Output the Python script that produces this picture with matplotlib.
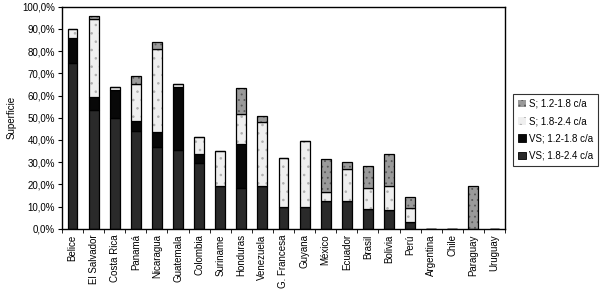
import numpy as np
import matplotlib.pyplot as plt

plt.rcParams['font.family'] = ['Liberation Sans', 'DejaVu Sans']
plt.rcParams['hatch.linewidth'] = 0.6

paises = ['Belice', 'El Salvador', 'Costa Rica', 'Panamá', 'Nicaragua', 'Guatemala',
          'Colombia', 'Suriname', 'Honduras', 'Venezuela', 'G. Francesa', 'Guyana',
          'México', 'Ecuador', 'Brasil', 'Bolivia', 'Perú', 'Argentina', 'Chile',
          'Paraguay', 'Uruguay']

# valores en % de superficie (orden de apilado: abajo -> arriba)
vs_18_24 = [74.5, 53.5, 49.7, 44.1, 36.9, 35.5, 29.5, 19.2, 18.2, 19.2, 9.9, 9.9,
            12.5, 12.5, 8.9, 8.4, 3.2, 0, 0, 0, 0]
vs_12_18 = [11.5, 6.0, 12.8, 4.4, 6.5, 28.3, 4.1, 0, 19.9, 0, 0, 0,
            0, 0, 0, 0, 0, 0, 0, 0, 0]
s_18_24 = [3.8, 34.8, 1.2, 16.5, 37.5, 1.5, 7.6, 15.9, 13.5, 29.0, 21.8, 29.6,
           4.2, 14.2, 9.6, 11.0, 6.0, 0, 0, 0, 0]
s_12_18 = [0, 1.5, 0, 3.8, 3.3, 0, 0, 0, 12.0, 2.7, 0, 0,
           14.7, 3.2, 9.7, 14.1, 4.9, 0, 0, 19.3, 0]

# (nombre, valores, relleno, trama, color de trama)
series = [
    ('VS; 1.8-2.4 c/a', vs_18_24, '#2a2a2a', None, None),
    ('VS; 1.2-1.8 c/a', vs_12_18, '#080808', None, None),
    ('S; 1.8-2.4 c/a', s_18_24, '#efefef', '..', '#b0b0b0'),
    ('S; 1.2-1.8 c/a', s_12_18, '#9a9a9a', '...', '#5a5a5a'),
]

fig = plt.figure(figsize=(6, 2.94), dpi=100)
ax = fig.add_axes([0.1033, 0.222, 0.7384, 0.755])

x = np.arange(len(paises))
base = np.zeros(len(paises))
handles = []
for nombre, vals, color, hatch, hcolor in series:
    vals = np.array(vals, dtype=float)
    if hatch:
        # relleno con trama gris, luego contorno negro encima
        ax.bar(x, vals, 0.47, bottom=base, color=color, edgecolor=hcolor,
               linewidth=0, hatch=hatch)
        ax.bar(x, vals, 0.47, bottom=base, fill=False, edgecolor='black',
               linewidth=0.9)
        h = plt.Rectangle((0, 0), 1, 1, facecolor=color, edgecolor=hcolor,
                          hatch=hatch, linewidth=0)
    else:
        ax.bar(x, vals, 0.47, bottom=base, color=color, edgecolor='black',
               linewidth=0.9)
        h = plt.Rectangle((0, 0), 1, 1, facecolor=color, edgecolor='black',
                          linewidth=0.6)
    handles.append((h, nombre))
    base += vals

ax.set_xlim(-0.5, len(paises) - 0.5)
ax.set_ylim(0, 100)
ax.set_yticks(np.arange(0, 101, 10))
ax.set_yticklabels([f'{v},0%' for v in range(0, 101, 10)], fontsize=7)
ax.set_xticks(x)
ax.set_xticklabels(paises, rotation=90, fontsize=7)
ax.tick_params(axis='x', length=0, pad=4)
ax.set_xticks(np.arange(-0.5, len(paises), 1), minor=True)
ax.tick_params(axis='x', which='minor', length=3, direction='out')
ax.tick_params(axis='y', length=3, direction='out', pad=2)
for s in ax.spines.values():
    s.set_linewidth(1.0)
ax.set_ylabel('Superficie', fontsize=7, labelpad=4)

handles = handles[::-1]
leg = fig.legend([h for h, _ in handles], [n for _, n in handles],
                 loc='upper left', bbox_to_anchor=(0.855, 0.68), fontsize=7,
                 frameon=True, fancybox=False, edgecolor='black', handlelength=0.8,
                 handleheight=0.8, handletextpad=0.3, labelspacing=0.75,
                 borderpad=0.5, borderaxespad=0)
leg.get_frame().set_linewidth(0.8)

fig.savefig('out.png', dpi=100)
